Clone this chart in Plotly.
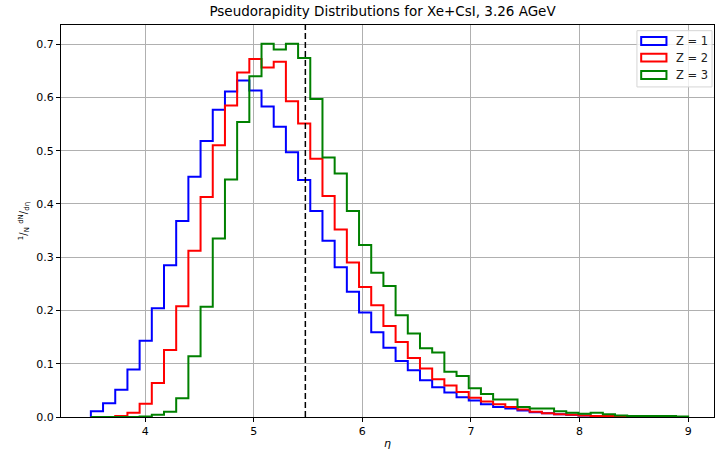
import numpy as np
import plotly.graph_objects as go

# histogram binning (eta)
eta_min, eta_max, n_bins = 3.5, 9.0, 49
eta_cut = 5.475

# normalised counts 1/N dN/deta per bin
z1 = [0.011, 0.026, 0.051, 0.089, 0.143, 0.204, 0.285, 0.368, 0.451, 0.518,
      0.577, 0.611, 0.632, 0.613, 0.583, 0.545, 0.497, 0.445, 0.387, 0.331,
      0.281, 0.235, 0.196, 0.159, 0.130, 0.105, 0.088, 0.069, 0.056, 0.046,
      0.037, 0.031, 0.024, 0.019, 0.016, 0.012, 0.009, 0.007, 0.005, 0.004,
      0.003, 0.002, 0.001, 0.001, 0.0, 0.0, 0.0, 0.0, 0.0]
z2 = [0.0, 0.0, 0.002, 0.008, 0.025, 0.064, 0.126, 0.208, 0.312, 0.413,
      0.510, 0.585, 0.647, 0.672, 0.656, 0.667, 0.593, 0.551, 0.485, 0.415,
      0.352, 0.290, 0.244, 0.210, 0.171, 0.141, 0.111, 0.091, 0.071, 0.059,
      0.047, 0.036, 0.029, 0.024, 0.019, 0.014, 0.010, 0.007, 0.005, 0.004,
      0.003, 0.002, 0.002, 0.001, 0.0, 0.0, 0.0, 0.0, 0.0]
z3 = [0.0, 0.0, 0.0, 0.0, 0.001, 0.004, 0.010, 0.035, 0.114, 0.207,
      0.335, 0.446, 0.554, 0.640, 0.701, 0.690, 0.701, 0.674, 0.597, 0.487,
      0.457, 0.387, 0.323, 0.271, 0.246, 0.191, 0.157, 0.129, 0.121, 0.085,
      0.077, 0.054, 0.043, 0.033, 0.033, 0.019, 0.016, 0.016, 0.011, 0.008,
      0.006, 0.008, 0.005, 0.003, 0.002, 0.002, 0.002, 0.002, 0.001]

labels = ["Z = 1", "Z = 2", "Z = 3"]
colors = ["#0000ff", "#ff0000", "#008000"]

edges = np.linspace(eta_min, eta_max, n_bins + 1)

fig = go.Figure()
for name, vals, color in zip(labels, [z1, z2, z3], colors):
    # step outline like matplotlib histtype='step', dropping to zero at both ends
    xs = [edges[0]] + list(edges)
    ys = [0.0] + list(vals) + [0.0]
    fig.add_trace(go.Scatter(
        x=xs, y=ys, name=name, mode="lines",
        line=dict(color=color, width=2, shape="hv"),
        showlegend=False,
    ))

fig.add_vline(x=eta_cut, line=dict(color="black", width=1.5, dash="6px,3px"))

# legend drawn by hand so the handles are outlined boxes
fig.add_shape(type="rect", xref="paper", yref="paper",
              x0=0.882, x1=0.997, y0=0.842, y1=0.9855,
              line=dict(color="#d5d5d5", width=1),
              fillcolor="rgba(255,255,255,0.8)", layer="above")
row_y = [0.9592, 0.9166, 0.8724]
for name, color, yy in zip(labels, colors, row_y):
    fig.add_shape(type="rect", xref="paper", yref="paper",
                  x0=0.8885, x1=0.9272, y0=yy - 0.010, y1=yy + 0.010,
                  line=dict(color=color, width=2), fillcolor="rgba(0,0,0,0)",
                  layer="above")
    fig.add_annotation(text=name, xref="paper", yref="paper",
                       x=0.939, y=yy, xanchor="left", yanchor="middle",
                       showarrow=False, font=dict(size=11.5, color="#222"))

axis_common = dict(
    showline=True, linecolor="black", linewidth=1, mirror=True,
    ticks="outside", ticklen=4, tickcolor="black",
    showgrid=True, gridcolor="#b0b0b0", gridwidth=0.8,
    zeroline=False, tickfont=dict(size=11, color="black"),
)

fig.update_layout(
    width=715, height=452,
    margin=dict(l=61, r=1, t=25, b=35),
    paper_bgcolor="white", plot_bgcolor="white",
    font=dict(family="DejaVu Sans", color="black"),
    title=dict(text="Pseudorapidity Distributions for Xe+CsI, 3.26 AGeV",
               x=0.535, xanchor="center", y=1.0, yanchor="top",
               pad=dict(t=7), font=dict(size=13.5)),
    xaxis=dict(range=[3.225, 9.238], dtick=1,
               title=dict(text="<i>η</i>", font=dict(size=11), standoff=2),
               **axis_common),
    yaxis=dict(range=[0, 0.736], dtick=0.1, tickformat=".1f",
               title=dict(text="<sup>1</sup>/<sub>N</sub> <sup>dN</sup>/<sub>dη</sub>",
                          font=dict(size=10), standoff=6),
               **axis_common),
    showlegend=False,
)

# drop the default 8px page margin so the figure fills the window exactly
fig.write_html("out.html",
               config={"displayModeBar": False},
               post_script="document.body.style.margin='0';"
                           "document.body.style.overflow='hidden';")
